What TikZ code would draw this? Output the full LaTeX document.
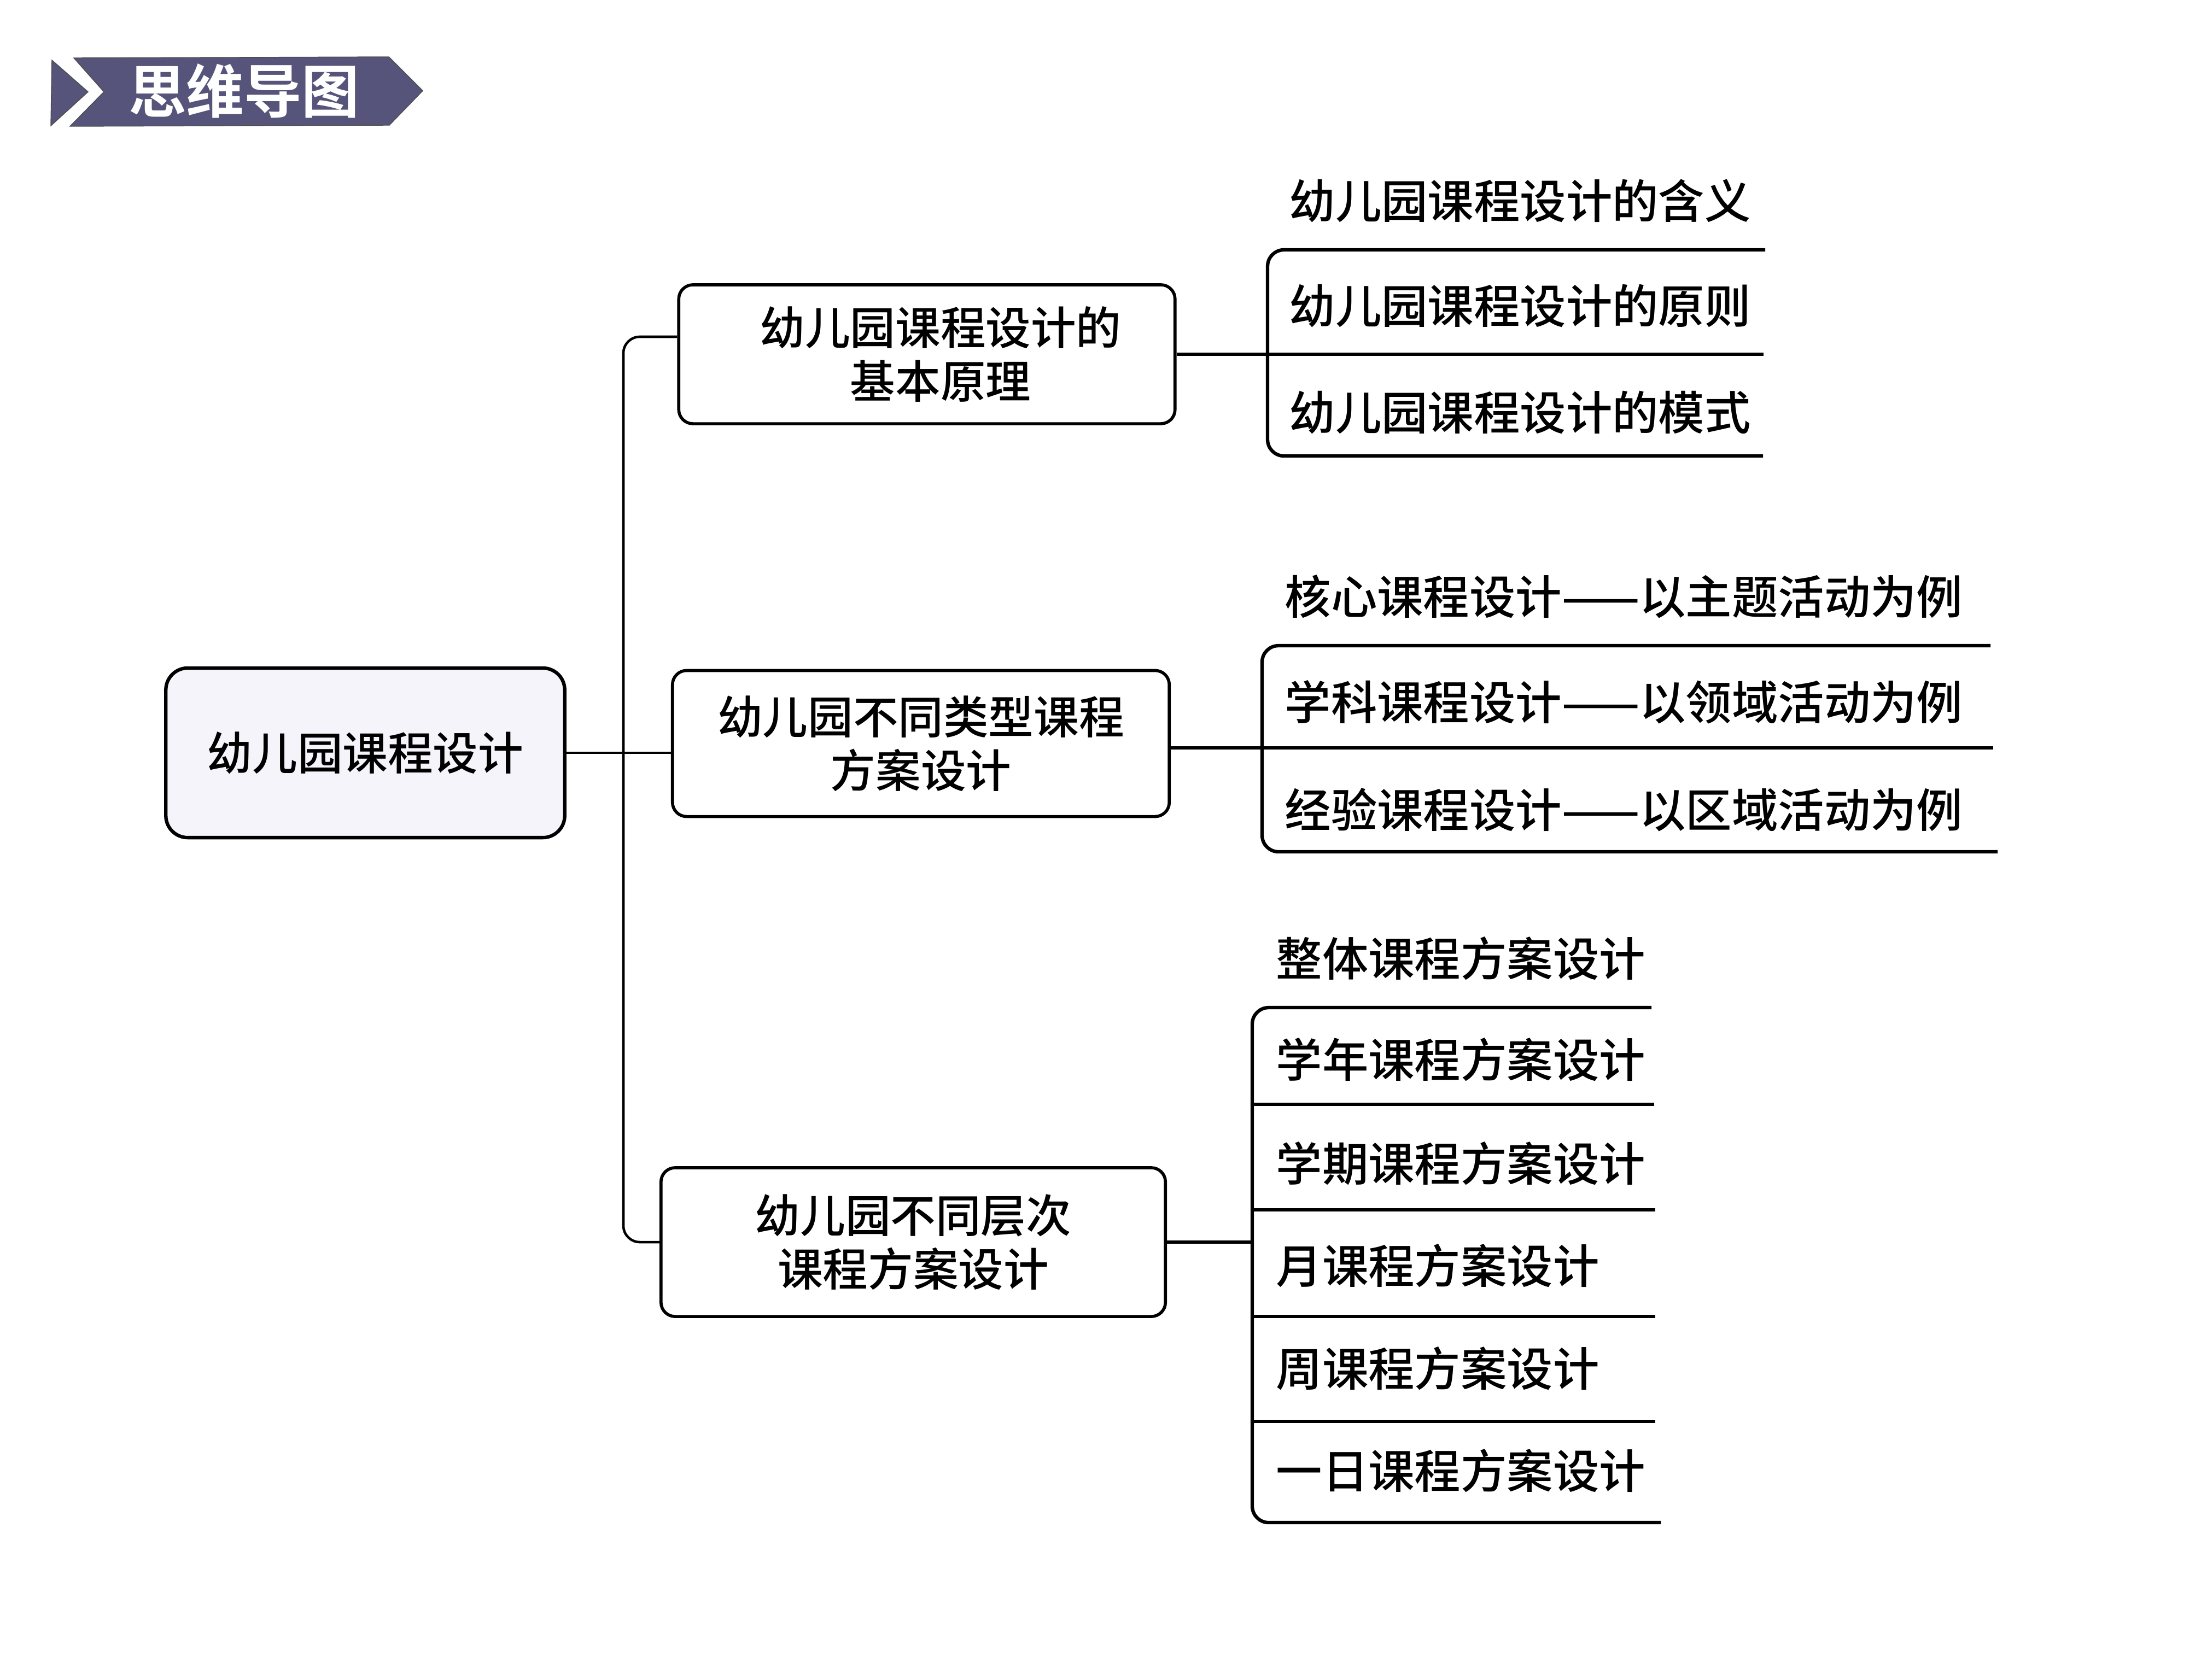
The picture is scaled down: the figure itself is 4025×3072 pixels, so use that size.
\documentclass[tikz,border=0pt]{standalone}
\usepackage{fontspec}
\setmainfont{Noto Sans CJK SC}
\newfontfamily\cjk[UprightFont={* Medium},BoldFont={* Bold}]{Noto Sans CJK SC}
\definecolor{bannerfill}{RGB}{86,84,122}
\definecolor{rootfill}{RGB}{245,244,250}
\begin{document}
\begin{tikzpicture}[x=0.01cm,y=-0.01cm,
  box/.style={draw,line width=1.6pt,rounded corners=0.26cm,align=center,inner sep=0pt,font=\cjk\fontsize{23.5}{28}\selectfont},
  leaf/.style={anchor=west,inner sep=0pt,font=\cjk\fontsize{24}{28}\selectfont},
  rule/.style={line width=1.8pt},
  trunkline/.style={line width=1.3pt}]
\useasboundingbox (0,0) rectangle (4025,3072);

\fill[bannerfill,draw=black!70] (95,110) -- (161,168) -- (93,230) -- cycle;
\fill[bannerfill,draw=black!70] (135,106) -- (711,104) -- (773,166) -- (712,229) -- (128,231) -- (190,168) -- cycle;
\node[text=white,font=\cjk\bfseries\fontsize{30}{34}\selectfont] (title) at (446,166) {思维导图};

\node[box,line width=1.8pt,rounded corners=0.4cm,fill=rootfill,minimum width=7.29cm,minimum height=3.1cm] (root) at (668,1377) {幼儿园课程设计};

\node[box,minimum width=9.07cm,minimum height=2.54cm] (basic) at (1695,648) {\hspace*{0.5cm}幼儿园课程设计的\\\hspace*{0.5cm}基本原理};
\node[box,minimum width=9.08cm,minimum height=2.67cm] (types) at (1684,1360) {幼儿园不同类型课程\\方案设计};
\node[box,minimum width=9.22cm,minimum height=2.72cm] (levels) at (1670,2272) {幼儿园不同层次\\课程方案设计};

\coordinate (trunk) at (1140,1377);
\draw[trunkline,rounded corners=0.3cm] ([yshift=0.32cm]basic.west) -| (trunk) |- (levels.west);
\draw[trunkline] (root.east) -- (root.east -| types.west);

\node[leaf] (meaning) at (2357,367) {幼儿园课程设计的含义};
\node[leaf] (principle) at (2357,560) {幼儿园课程设计的原则};
\node[leaf] (model) at (2357,755) {幼儿园课程设计的模式};
\coordinate (g1a) at (2318,457);
\coordinate (g1b) at (2318,834);
\coordinate (e1a) at (3228,457);
\coordinate (e1m) at (3225,648);
\coordinate (e1b) at (3224,834);
\draw[rule,rounded corners=0.3cm] (e1a) -- (g1a) -- (g1b) -- (e1b);
\draw[rule] (basic.east) -- (e1m);

\node[leaf] (core) at (2349,1091) {核心课程设计——以主题活动为例};
\node[leaf] (subject) at (2349,1284) {学科课程设计——以领域活动为例};
\node[leaf] (experience) at (2349,1481) {经验课程设计——以区域活动为例};
\coordinate (g2a) at (2308,1181);
\coordinate (g2b) at (2308,1558);
\coordinate (e2a) at (3640,1181);
\coordinate (e2m) at (3645,1368);
\coordinate (e2b) at (3653,1558);
\draw[rule,rounded corners=0.3cm] (e2a) -- (g2a) -- (g2b) -- (e2b);
\draw[rule] (types.east |- e2m) -- (e2m);

\node[leaf] (whole) at (2333,1753) {整体课程方案设计};
\node[leaf] (year) at (2333,1938) {学年课程方案设计};
\node[leaf] (term) at (2333,2128) {学期课程方案设计};
\node[leaf] (month) at (2333,2315) {月课程方案设计};
\node[leaf] (week) at (2333,2503) {周课程方案设计};
\node[leaf] (day) at (2333,2690) {一日课程方案设计};
\coordinate (g3a) at (2290,1843);
\coordinate (g3b) at (2290,2785);
\coordinate (e3a) at (3020,1843);
\coordinate (e3b) at (3037,2785);
\draw[rule,rounded corners=0.3cm] (e3a) -- (g3a) -- (g3b) -- (e3b);
\draw[rule] (2290,2020) -- (3025,2020);
\draw[rule] (2290,2213) -- (3027,2213);
\draw[rule] (2290,2408) -- (3027,2408);
\draw[rule] (2290,2600) -- (3027,2600);
\draw[rule] (levels.east) -- (levels.east -| g3a);
\end{tikzpicture}
\end{document}
